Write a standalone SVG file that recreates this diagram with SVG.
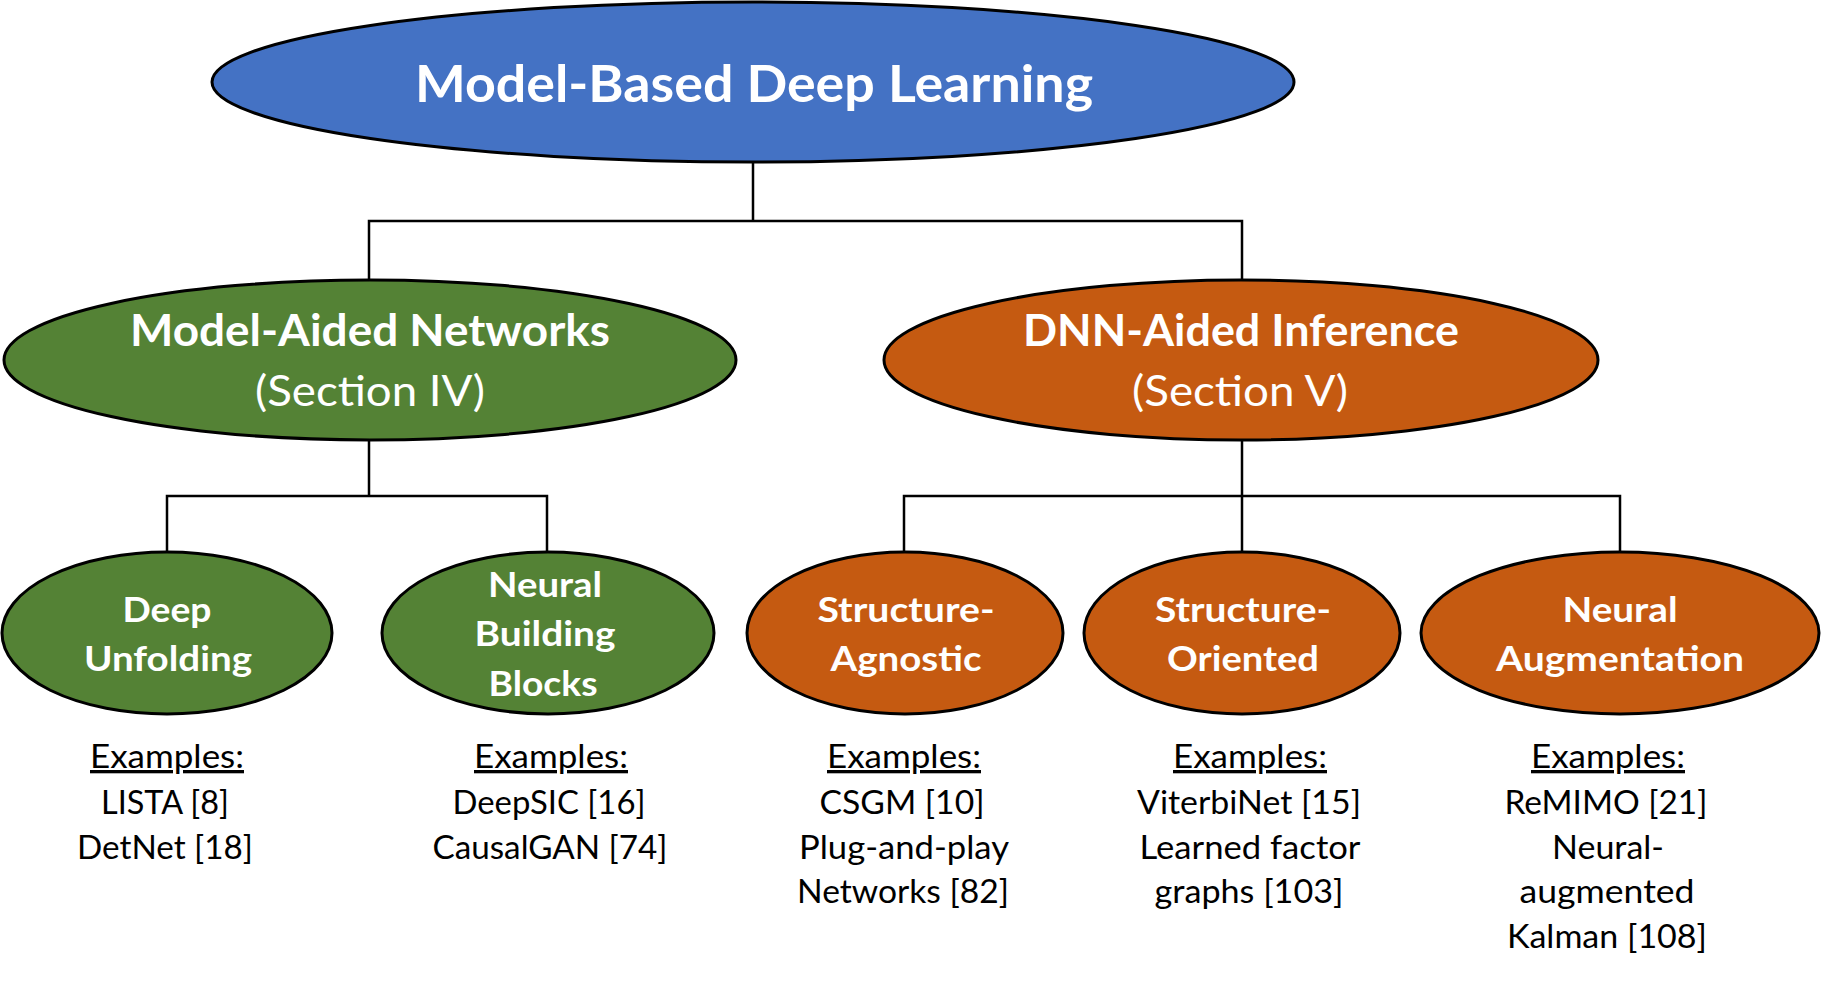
<svg xmlns="http://www.w3.org/2000/svg" width="1821" height="983" viewBox="0 0 1821 983">
<style>
.n{stroke:#000;stroke-width:3}
.blue{fill:#4472C4}
.green{fill:#548235}
.orange{fill:#C55A11}
.t{font-family:Lato,"Open Sans","Liberation Sans",sans-serif;fill:#fff;text-anchor:middle;font-weight:bold}
.s{font-family:Lato,"Open Sans","Liberation Sans",sans-serif;fill:#fff;text-anchor:middle;font-weight:normal}
.e{font-family:Lato,"Open Sans","Liberation Sans",sans-serif;fill:#000;text-anchor:middle;font-size:33px}
.c{fill:none;stroke:#000;stroke-width:2.5}
</style>
<rect width="1821" height="983" fill="#fff"/>
<g id="connectors">
<path class="c" d="M753 162V221M369 279V221H1242V279"/>
<path class="c" d="M369 440V496M167 552V496H547V552"/>
<path class="c" d="M1242 440V552M904 552V496H1620V552"/>
</g>
<g id="root">
<ellipse class="n blue" cx="753" cy="82" rx="541" ry="80"/>
<text class="t" x="754" y="102" font-size="51" textLength="678" lengthAdjust="spacingAndGlyphs">Model-Based Deep Learning</text>
</g>
<g id="model-aided">
<ellipse class="n green" cx="370" cy="360" rx="366" ry="80"/>
<text class="t" x="370" y="346" font-size="43" textLength="480" lengthAdjust="spacingAndGlyphs">Model-Aided Networks</text>
<text class="s" x="370" y="406" font-size="43" textLength="230" lengthAdjust="spacingAndGlyphs">(Section IV)</text>
</g>
<g id="dnn-aided">
<ellipse class="n orange" cx="1241" cy="360" rx="357" ry="80"/>
<text class="t" x="1241" y="346" font-size="43" textLength="436" lengthAdjust="spacingAndGlyphs">DNN-Aided Inference</text>
<text class="s" x="1240" y="406" font-size="43" textLength="216" lengthAdjust="spacingAndGlyphs">(Section V)</text>
</g>
<g id="deep-unfolding">
<ellipse class="n green" cx="167" cy="633" rx="165" ry="81"/>
<text class="t" x="167" y="622" font-size="35" textLength="89" lengthAdjust="spacingAndGlyphs">Deep</text>
<text class="t" x="168" y="671" font-size="35" textLength="168" lengthAdjust="spacingAndGlyphs">Unfolding</text>
<text class="e" x="167" y="768" text-decoration="underline" textLength="154" lengthAdjust="spacingAndGlyphs">Examples:</text>
<text class="e" x="165" y="814" textLength="128" lengthAdjust="spacingAndGlyphs">LISTA [8]</text>
<text class="e" x="165" y="859" textLength="176" lengthAdjust="spacingAndGlyphs">DetNet [18]</text>
</g>
<g id="neural-building-blocks">
<ellipse class="n green" cx="548" cy="633" rx="166" ry="81"/>
<text class="t" x="545" y="597" font-size="35" textLength="114" lengthAdjust="spacingAndGlyphs">Neural</text>
<text class="t" x="545" y="646" font-size="35" textLength="141" lengthAdjust="spacingAndGlyphs">Building</text>
<text class="t" x="543" y="696" font-size="35" textLength="109" lengthAdjust="spacingAndGlyphs">Blocks</text>
<text class="e" x="551" y="768" text-decoration="underline" textLength="154" lengthAdjust="spacingAndGlyphs">Examples:</text>
<text class="e" x="549" y="814" textLength="193" lengthAdjust="spacingAndGlyphs">DeepSIC [16]</text>
<text class="e" x="550" y="859" textLength="235" lengthAdjust="spacingAndGlyphs">CausalGAN [74]</text>
</g>
<g id="structure-agnostic">
<ellipse class="n orange" cx="905" cy="633" rx="158" ry="81"/>
<text class="t" x="906" y="622" font-size="35" textLength="177" lengthAdjust="spacingAndGlyphs">Structure-</text>
<text class="t" x="906" y="671" font-size="35" textLength="151" lengthAdjust="spacingAndGlyphs">Agnostic</text>
<text class="e" x="904" y="768" text-decoration="underline" textLength="154" lengthAdjust="spacingAndGlyphs">Examples:</text>
<text class="e" x="902" y="814" textLength="165" lengthAdjust="spacingAndGlyphs">CSGM [10]</text>
<text class="e" x="904" y="859" textLength="210" lengthAdjust="spacingAndGlyphs">Plug-and-play</text>
<text class="e" x="903" y="903" textLength="212" lengthAdjust="spacingAndGlyphs">Networks [82]</text>
</g>
<g id="structure-oriented">
<ellipse class="n orange" cx="1242" cy="633" rx="158" ry="81"/>
<text class="t" x="1243" y="622" font-size="35" textLength="176" lengthAdjust="spacingAndGlyphs">Structure-</text>
<text class="t" x="1243" y="671" font-size="35" textLength="152" lengthAdjust="spacingAndGlyphs">Oriented</text>
<text class="e" x="1250" y="768" text-decoration="underline" textLength="154" lengthAdjust="spacingAndGlyphs">Examples:</text>
<text class="e" x="1249" y="814" textLength="224" lengthAdjust="spacingAndGlyphs">ViterbiNet [15]</text>
<text class="e" x="1250" y="859" textLength="221" lengthAdjust="spacingAndGlyphs">Learned factor</text>
<text class="e" x="1249" y="903" textLength="189" lengthAdjust="spacingAndGlyphs">graphs [103]</text>
</g>
<g id="neural-augmentation">
<ellipse class="n orange" cx="1620" cy="633" rx="199" ry="81"/>
<text class="t" x="1620" y="622" font-size="35" textLength="115" lengthAdjust="spacingAndGlyphs">Neural</text>
<text class="t" x="1620" y="671" font-size="35" textLength="248" lengthAdjust="spacingAndGlyphs">Augmentation</text>
<text class="e" x="1608" y="768" text-decoration="underline" textLength="154" lengthAdjust="spacingAndGlyphs">Examples:</text>
<text class="e" x="1606" y="814" textLength="203" lengthAdjust="spacingAndGlyphs">ReMIMO [21]</text>
<text class="e" x="1608" y="859" textLength="112" lengthAdjust="spacingAndGlyphs">Neural-</text>
<text class="e" x="1607" y="903" textLength="175" lengthAdjust="spacingAndGlyphs">augmented</text>
<text class="e" x="1607" y="948" textLength="200" lengthAdjust="spacingAndGlyphs">Kalman [108]</text>
</g>
</svg>
